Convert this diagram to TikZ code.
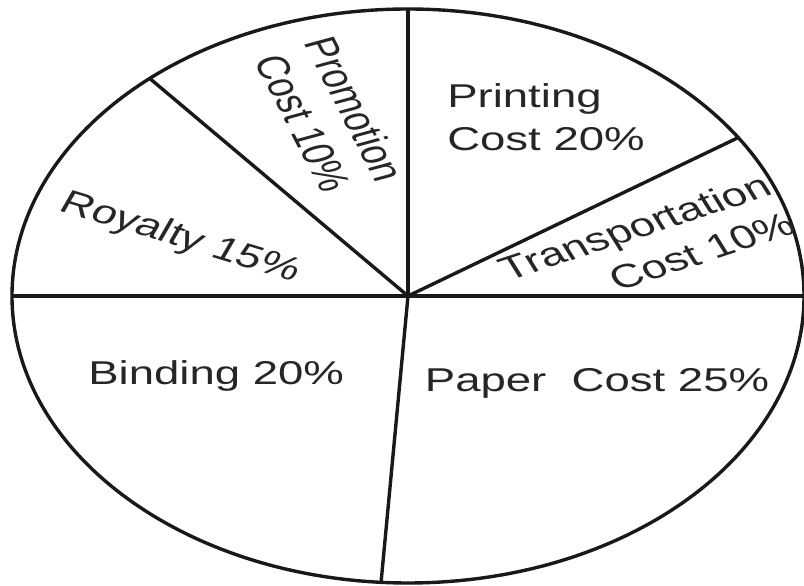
\documentclass[tikz,border=0pt]{standalone}
\usepackage{fontspec}
\setmainfont{Liberation Sans}
\begin{document}
\begin{tikzpicture}[x=1pt,y=1pt,
  pieline/.style={line width=3.4pt, black!90},
  lbl/.style={inner sep=0pt, font=\fontsize{33}{42}\selectfont, text=black!85}]
\useasboundingbox (0,0) rectangle (804,586);
\begin{scope}[shift={(408,290)}, xscale=1.3798, transform shape]
  \coordinate (O) at (0,0);
  \coordinate (top) at (90:287);
  \coordinate (ul) at (130.7:287);
  \coordinate (left) at (180:287);
  \coordinate (bot) at (266.1:287);
  \coordinate (right) at (0:287);
  \coordinate (ur) at (33.5:287);
  \draw[pieline] (O) circle (287);
  \draw[pieline] (O) -- (top);
  \draw[pieline] (O) -- (ul);
  \draw[pieline] (left) -- (right);
  \draw[pieline] (O) -- (bot);
  \draw[pieline] (O) -- (ur);
  \node[lbl, align=left, font=\fontsize{33}{43}\selectfont] (printing) at (100,178.5) {Printing\\Cost 20\%};
  \node[lbl, align=right, rotate=24.4] (transport) at (173,50) {Transportation\\Cost 10\%};
  \node[lbl] (paper) at (137,-87.4) {Paper~~Cost 25\%};
  \node[lbl] (binding) at (-139,-80.4) {Binding 20\%};
  \node[lbl, rotate=-22.7] (royalty) at (-165,58) {Royalty 15\%};
  \node[lbl, align=center, rotate=-69.5, font=\fontsize{33}{40}\selectfont] (promotion) at (-57,180) {Promotion\\Cost 10\%};
\end{scope}
\end{tikzpicture}
\end{document}
